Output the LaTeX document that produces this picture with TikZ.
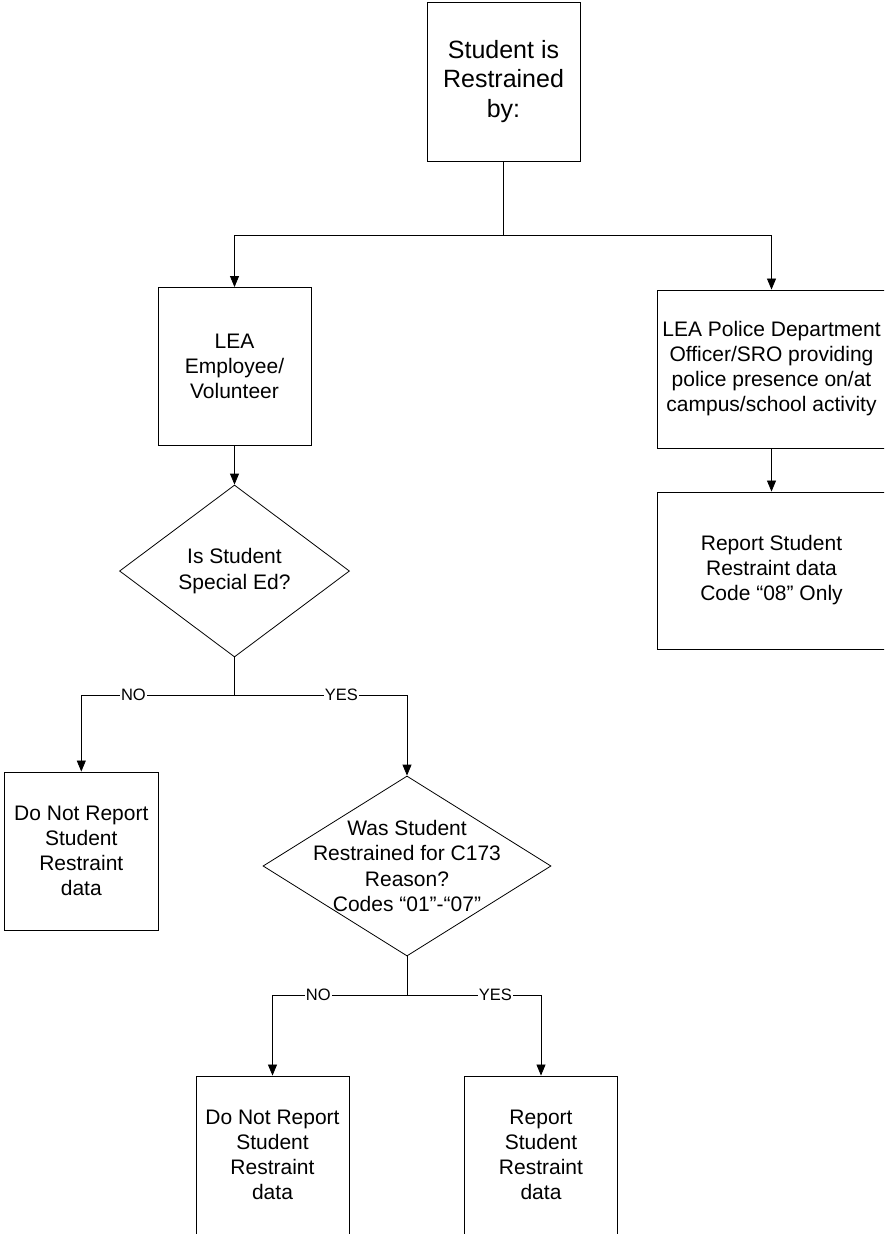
\documentclass[tikz,border=0pt]{standalone}
\usepackage{fontspec}
\setmainfont{Liberation Sans}
\usetikzlibrary{arrows.meta,shapes.geometric,positioning}

\tikzset{
  box/.style={draw, line width=0.9pt, minimum width=153pt, minimum height=158pt, inner sep=0pt, align=center, font=\fontsize{21}{25}\selectfont},
  decision/.style={draw, diamond, line width=0.8pt, inner sep=0pt},
  qtext/.style={align=center, inner sep=0pt, font=\fontsize{21}{25.5}\selectfont},
  yesno/.style={fill=white, inner sep=1pt, font=\fontsize{16.5}{18}\selectfont},
  link/.style={line width=0.8pt},
  arr/.style={link, -{Triangle[length=11pt,width=9pt]}},
}

\begin{document}
\begin{tikzpicture}[x=1pt,y=-1pt]
\useasboundingbox (0,0) rectangle (884,1234);
\clip (0,0) rectangle (884,1234);

% who restrained the student
\node[box, minimum height=159pt, font=\fontsize{25}{29.5}\selectfont] (start) at (503.5,81.5) {Student is\\Restrained\\by:};
\node[box] (employee) at (234.5,366.5) {LEA\\Employee/\\Volunteer};
\node[box, minimum width=229pt] (police) at (771.5,369) {LEA Police Department\\Officer/SRO providing\\police presence on/at\\campus/school activity};
\node[box, minimum width=229pt, minimum height=157pt] (report08) at (771.5,570.5) {Report Student\\Restraint data\\Code “08” Only};

% questions
\node[decision, minimum width=230pt, minimum height=172pt] (special) at (234.5,571) {};
\node[qtext] (specialtext) at (special) {Is Student\\Special Ed?};
\node[decision, minimum width=288pt, minimum height=180pt] (reason) at (407,866) {};
\node[qtext] (reasontext) at (reason) {Was Student\\Restrained for C173\\Reason?\\Codes “01”-“07”};

% outcomes
\node[box, minimum width=153.5pt] (noreport1) at (81.3,851) {Do Not Report\\Student\\Restraint\\data};
\node[box] (noreport2) at (272.5,1155) {Do Not Report\\Student\\Restraint\\data};
\node[box] (report) at (541,1155) {Report\\Student\\Restraint\\data};

\coordinate (split1) at (503.5,235);
\coordinate (split2) at (234.5,695);
\coordinate (split3) at (407,995);

\draw[link] (start) -- (split1);
\draw[arr] (split1) -| (employee);
\draw[arr] (split1) -| (police);
\draw[arr] (employee) -- (special);
\draw[arr] (police) -- (report08);

\draw[link] (special) -- (split2);
\draw[arr] (split2) -| node[yesno, pos=0.33] (no1) {NO} (noreport1);
\draw[arr] (split2) -| node[yesno, pos=0.31] (yes1) {YES} (reason);

\draw[link] (reason) -- (split3);
\draw[arr] (split3) -| node[yesno, pos=0.33] (no2) {NO} (noreport2);
\draw[arr] (split3) -| node[yesno, pos=0.33] (yes2) {YES} (report);
\end{tikzpicture}
\end{document}
